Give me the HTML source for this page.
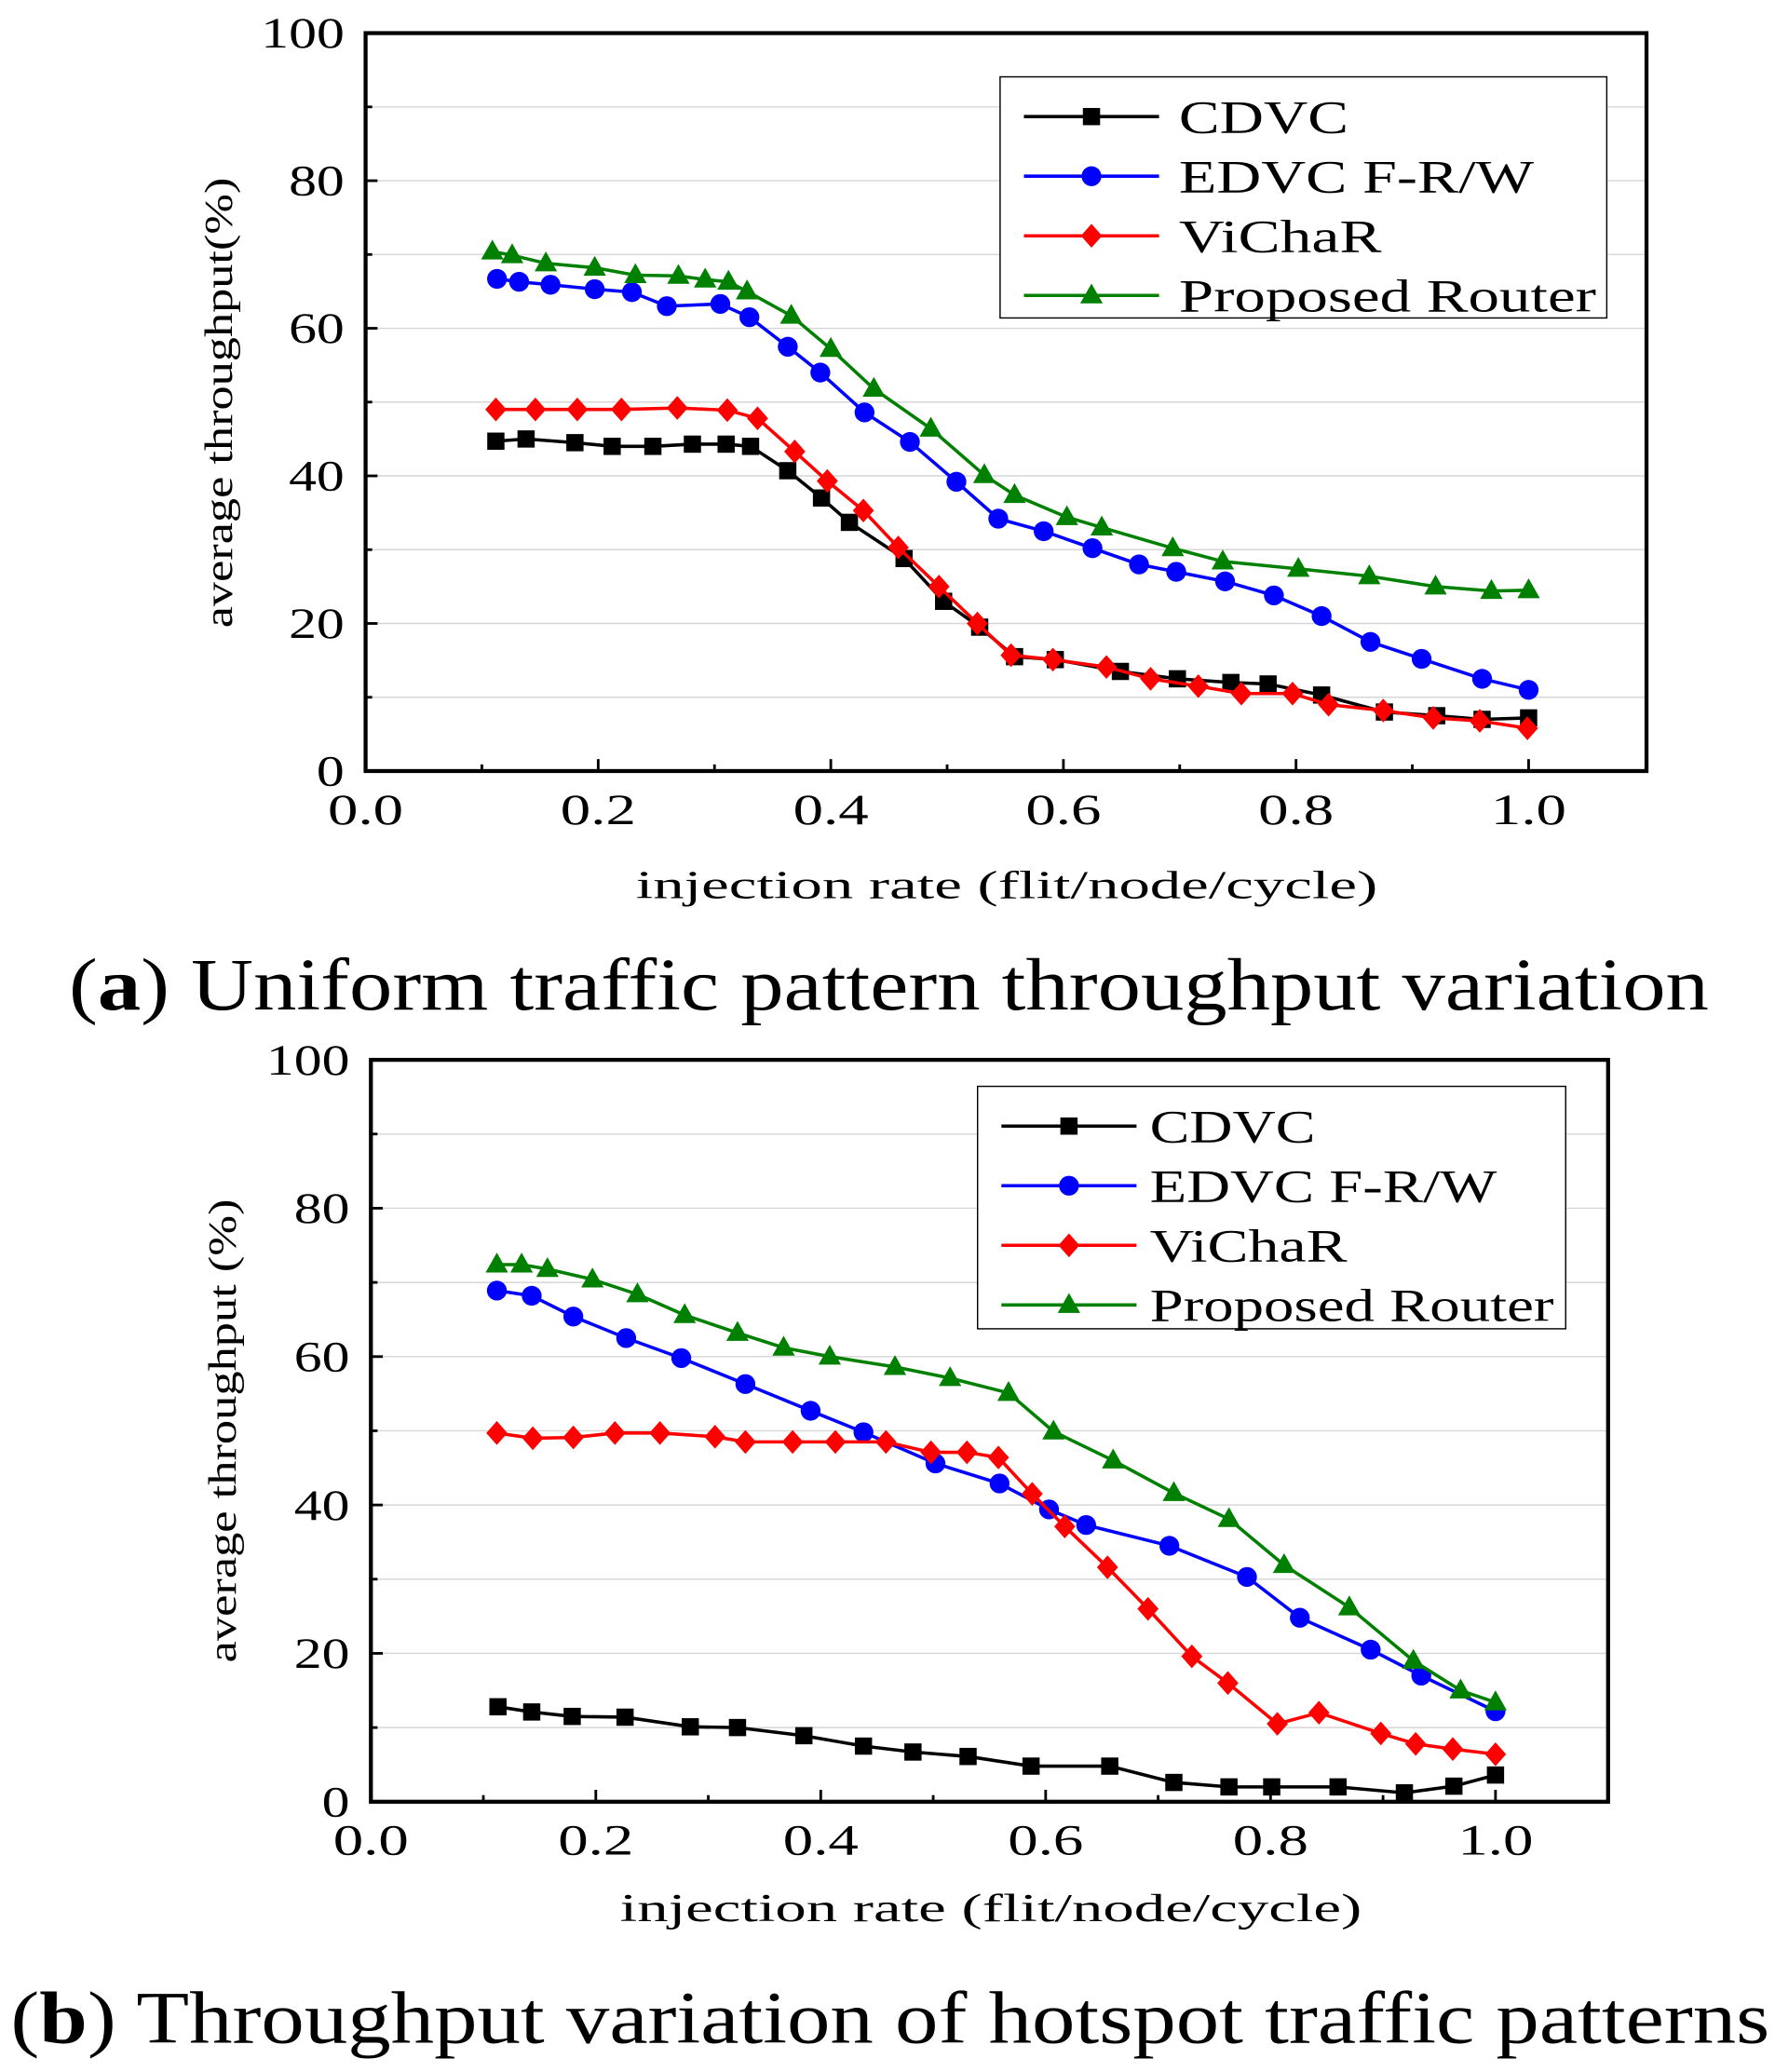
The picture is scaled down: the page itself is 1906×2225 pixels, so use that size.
<!DOCTYPE html>
<html><head><meta charset="utf-8"><style>
html,body{margin:0;padding:0;background:#fff;}
svg{display:block;font-family:"Liberation Serif",serif;}
</style></head><body>
<svg id="svg" width="1906" height="2225" viewBox="0 0 1340 1564" preserveAspectRatio="none" xmlns="http://www.w3.org/2000/svg"></svg>
<script>
// Chart (a) data
const aCdvcX=[.112,.138,.18,.212,.247,.281,.31,.331,.363,.392,.416,.463,.497,.528,.558,.593,.649,.698,.744,.776,.822,.876,.921,.96,1.0];
const aCdvcY=[44.7,45,44.5,44,44,44.3,44.3,44,40.7,37,33.7,28.8,23,19.5,15.5,15.1,13.5,12.5,12,11.8,10.3,8,7.5,7,7.2];
const aEdvcX=[.113,.132,.159,.197,.229,.259,.305,.33,.363,.391,.429,.468,.508,.544,.583,.625,.665,.697,.739,.781,.822,.864,.908,.96,1.0];
const aEdvcY=[66.7,66.3,65.9,65.3,64.9,63,63.3,61.5,57.5,54,48.6,44.6,39.2,34.2,32.5,30.2,28,27,25.7,23.8,21,17.5,15.2,12.5,11];
const aVicX=[.112,.146,.182,.22,.268,.311,.337,.369,.397,.428,.458,.493,.526,.555,.591,.637,.675,.716,.753,.797,.828,.875,.918,.958,.999];
const aVicY=[49,49,49,49,49.2,48.9,47.8,43.3,39.3,35.3,30.3,25,20,15.7,15.1,14.1,12.5,11.5,10.5,10.5,9,8.2,7.2,6.8,5.8];
const aPropX=[.109,.126,.155,.197,.232,.269,.292,.312,.328,.366,.4,.437,.486,.532,.558,.603,.633,.694,.737,.802,.863,.92,.968,1.0];
const aPropY=[70.4,69.9,68.8,68.2,67.2,67.1,66.6,66.3,65,61.7,57.2,51.8,46.4,40.1,37.4,34.4,33,30.2,28.4,27.4,26.4,25,24.4,24.5];
// Chart (b) data
const bCdvcX=[.113,.143,.179,.226,.284,.326,.385,.438,.482,.531,.587,.657,.714,.763,.801,.86,.919,.963,1.0];
const bCdvcY=[12.8,12.1,11.5,11.4,10.1,10,8.9,7.5,6.7,6.1,4.8,4.8,2.6,2,2,2,1.2,2.1,3.6];
const bEdvcX=[.112,.143,.18,.227,.276,.333,.391,.438,.502,.559,.603,.636,.71,.779,.826,.889,.934,1.0];
const bEdvcY=[68.9,68.2,65.4,62.5,59.8,56.3,52.7,49.8,45.6,42.9,39.4,37.3,34.5,30.3,24.8,20.5,17,12.2];
const bVicX=[.112,.144,.18,.217,.257,.306,.333,.375,.413,.458,.498,.53,.558,.588,.617,.655,.691,.73,.762,.806,.843,.898,.929,.962,1.0];
const bVicY=[49.7,49,49.1,49.7,49.7,49.2,48.5,48.5,48.5,48.5,47.1,47.1,46.4,41.5,37.1,31.6,26,19.6,16,10.5,12,9.2,7.8,7.1,6.4];
const bPropX=[.112,.134,.157,.197,.237,.279,.326,.367,.408,.466,.515,.567,.607,.66,.714,.763,.812,.87,.927,.969,1.0];
const bPropY=[72.4,72.4,71.8,70.4,68.4,65.6,63.2,61.2,60,58.6,57.1,55.1,49.9,46,41.6,38.1,31.9,26.2,19,15,13.4];
const xTicks=["0.0","0.2","0.4","0.6","0.8","1.0"];
const yTicks=["0","20","40","60","80","100"];
const seriesNames=["CDVC","EDVC F-R/W","ViChaR","Proposed Router"];
const legendWidthsA=[128,268,153,315];
const legendWidthsB=[125,262,149,305];

const NS="http://www.w3.org/2000/svg";
const svg=document.getElementById('svg');
function mk(tag,attrs,parent){const e=document.createElementNS(NS,tag);for(const k in attrs)e.setAttribute(k,attrs[k]);(parent||svg).appendChild(e);return e;}

function marker(g,type,x,y,color){
  let m;
  if(type==='sq') m=mk('rect',{x:x-6.5,y:y-6.5,width:13,height:13,fill:color},g);
  else if(type==='ci') m=mk('circle',{cx:x,cy:y,r:7.5,fill:color},g);
  else if(type==='di') m=mk('polygon',{points:`${x},${y-9} ${x+8},${y} ${x},${y+9} ${x-8},${y}`,fill:color},g);
  else m=mk('polygon',{points:`${x},${y-9} ${x+8.5},${y+6} ${x-8.5},${y+6}`,fill:color},g);
  
  
}

function chart(c){
  const sx=v=>c.x0+v*(c.x1-c.x0);
  const sy=v=>c.y0-v/100*(c.y0-c.y1);
  const g=mk('g',{});
  
  
  for(let v=10;v<100;v+=10){const l=mk('line',{x1:c.left,x2:c.right,y1:sy(v),y2:sy(v),stroke:'#d6d6d6','stroke-width':1},g);}
  for(let i=0;i<=10;i++){const v=i*10;const len=i%2?5:9;mk('line',{x1:c.left,x2:c.left+len,y1:sy(v),y2:sy(v),stroke:'#000','stroke-width':2},g);}
  for(let i=0;i<=11;i++){const v=i*0.1;if(sx(v)>c.right-2)continue;const len=i%2?5:9;mk('line',{x1:sx(v),x2:sx(v),y1:c.y0,y2:c.y0-len,stroke:'#000','stroke-width':2},g);}
  yTicks.forEach(t=>{const e=mk('text',{x:c.left-16,y:sy(+t)+11,'text-anchor':'end','font-size':33,textLength:t.length*21,lengthAdjust:'spacingAndGlyphs'},g);e.textContent=t;});
  xTicks.forEach(t=>{const e=mk('text',{x:sx(+t),y:c.y0+40,'text-anchor':'middle','font-size':33,textLength:57,lengthAdjust:'spacingAndGlyphs'},g);e.textContent=t;});
  const yt=mk('text',{x:0,y:0,transform:`translate(${c.ytx},${c.yty}) rotate(-90)`,'text-anchor':'middle','font-size':30,textLength:c.ytl,lengthAdjust:'spacingAndGlyphs'},g);yt.textContent=c.ytitle;
  const xt=mk('text',{x:c.xtx,y:c.xty,'text-anchor':'middle','font-size':30,textLength:560,lengthAdjust:'spacingAndGlyphs'},g);xt.textContent='injection rate (flit/node/cycle)';
  const series=[[c.d[0],c.d[1],'#000','sq'],[c.d[2],c.d[3],'#0000ff','ci'],[c.d[4],c.d[5],'#ff0000','di'],[c.d[6],c.d[7],'#008000','tr']];
  series.forEach(([xs,ys,col,mt],si)=>{
    const pts=xs.map((x,i)=>sx(x)+','+sy(ys[i])).join(' ');
    const pl=mk('polyline',{points:pts,fill:'none',stroke:col,'stroke-width':2.5},g);
    
    
    xs.forEach((x,i)=>marker(g,mt,sx(x),sy(ys[i]),col));
  });
  const box=mk('rect',{x:c.left,y:c.y1,width:c.right-c.left,height:c.y0-c.y1,fill:'none',stroke:'#000','stroke-width':3},g);
  
  const lg=mk('g',{},g);
  
  
  mk('rect',{x:c.lx,y:c.ly,width:c.lw,height:c.lh,fill:'#fff',stroke:'#000','stroke-width':1},lg);
  seriesNames.forEach((n,i)=>{
    const yy=c.ly+30+i*45;
    mk('line',{x1:c.lx+18,x2:c.lx+120,y1:yy,y2:yy,stroke:series[i][2],'stroke-width':2.5},lg);
    marker(lg,series[i][3],c.lx+69,yy,series[i][2]);
    const t=mk('text',{x:c.lx+c.ltx,y:yy+12,'font-size':35,textLength:c.lws[i],lengthAdjust:'spacingAndGlyphs'},lg);t.textContent=n;
    
    
  });
}

chart({name:'chart-a',left:276,right:1243,x0:276,x1:1154,y0:582,y1:25,ytx:175,yty:304,ytl:340,ytitle:'average throughput(%)',xtx:760,xty:678,
  lx:755,ly:58,lw:458,lh:182,ltx:135,lws:legendWidthsA,d:[aCdvcX,aCdvcY,aEdvcX,aEdvcY,aVicX,aVicY,aPropX,aPropY]});
chart({name:'chart-b',left:280,right:1214,x0:280,x1:1129,y0:1360,y1:800,ytx:178,yty:1080,ytl:350,ytitle:'average throughput (%)',xtx:748,xty:1450,
  lx:738,ly:820,lw:444,lh:183,ltx:130,lws:legendWidthsB,d:[bCdvcX,bCdvcY,bEdvcX,bEdvcY,bVicX,bVicY,bPropX,bPropY]});

const ca=mk('text',{x:52,y:762,'font-size':56,textLength:1238,lengthAdjust:'spacingAndGlyphs'});
ca.innerHTML='(<tspan font-weight="bold">a</tspan>) Uniform traffic pattern throughput variation';


const cb=mk('text',{x:8,y:1542,'font-size':56,textLength:1328,lengthAdjust:'spacingAndGlyphs'});
cb.innerHTML='(<tspan font-weight="bold">b</tspan>) Throughput variation of hotspot traffic patterns';


</script>
</body></html>
